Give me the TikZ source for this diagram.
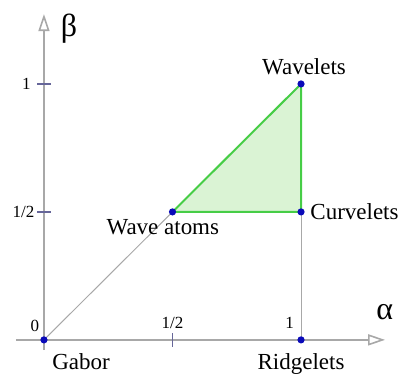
\documentclass[tikz,border=0pt]{standalone}
\usepackage{fontspec}
\setmainfont{Liberation Serif}
\usepackage{xcolor}
\usetikzlibrary{arrows.meta, positioning, backgrounds}
\definecolor{axisgray}{RGB}{168,168,168}
\definecolor{edgegreen}{RGB}{70,205,70}
\definecolor{hatchgreen}{RGB}{218,243,212}
\definecolor{dotblue}{RGB}{10,10,185}

\begin{document}
\begin{tikzpicture}[x=4.52cm, y=4.5cm,
  axis/.style={draw=axisgray, line width=0.8pt, -{Triangle[open, length=8.5pt, width=5.5pt]}},
  guide/.style={draw=axisgray, line width=0.5pt},
  dot/.style={circle, fill=dotblue, minimum size=3.6pt, inner sep=0pt},
  method/.style={font=\fontsize{11.5}{13}\selectfont, inner sep=0pt},
  ticklbl/.style={font=\fontsize{8.5}{10}\selectfont, inner sep=0pt},
  tickmark/.style={draw=blue!20!gray, line width=0.6pt}]
\useasboundingbox (-0.171,-0.133) rectangle (1.385,1.328);
% axes
\coordinate (xstart) at (-0.109,0);
\coordinate (xend) at (1.327,0);
\coordinate (ystart) at (0,-0.04);
\coordinate (yend) at (0,1.273);
\draw[axis] (xstart) -- (xend);
\draw[axis] (ystart) -- (yend);
\draw[tickmark] (-0.027,1) -- (0.027,1);
\draw[tickmark] (-0.027,0.5) -- (0.027,0.5);
\draw[tickmark] (0.5,-0.027) -- (0.5,0.027);
\node[font=\fontsize{16}{18}\selectfont] (alphalbl) at (1.326,0.107) {α};
\node[font=\fontsize{16}{18}\selectfont] (betalbl) at (0.097,1.215) {β};
% tick labels
\node[ticklbl, anchor=east] (yone) at (-0.05,1) {1};
\node[ticklbl, anchor=east] (yhalf) at (-0.036,0.5) {1/2};
\node[ticklbl] (xzero) at (-0.035,0.055) {0};
\node[ticklbl] (xhalf) at (0.5,0.068) {1/2};
\node[ticklbl] (xone) at (0.956,0.068) {1};
% methods
\node[dot] (gabor) at (0,0) {};
\node[dot] (ridge) at (1,0) {};
\node[dot] (atoms) at (0.5,0.5) {};
\node[dot] (curve) at (1,0.5) {};
\node[dot] (wave) at (1,1) {};
\begin{scope}[on background layer]
\draw[guide] (gabor.center) -- (atoms.center);
\draw[guide] (ridge.center) -- (curve.center);
\filldraw[fill=hatchgreen, draw=edgegreen, line width=1pt] (atoms.center) -- (wave.center) -- (curve.center) -- cycle;
\end{scope}
\node[method, anchor=north west] (gaborlbl) at ([xshift=4pt, yshift=-6.5pt]gabor.center) {Gabor};
\node[method, anchor=north] (ridgelbl) at ([yshift=-6.5pt]ridge.center) {Ridgelets};
\node[method, anchor=base east] (atomslbl) at ([xshift=23.5pt, yshift=-11.5pt]atoms.center) {Wave atoms};
\node[method, anchor=base west] (curvelbl) at ([xshift=4.5pt, yshift=-4pt]curve.center) {Curvelets};
\node[method, anchor=base] (wavelbl) at ([xshift=1.5pt, yshift=4.5pt]wave.center) {Wavelets};
\end{tikzpicture}
\end{document}
